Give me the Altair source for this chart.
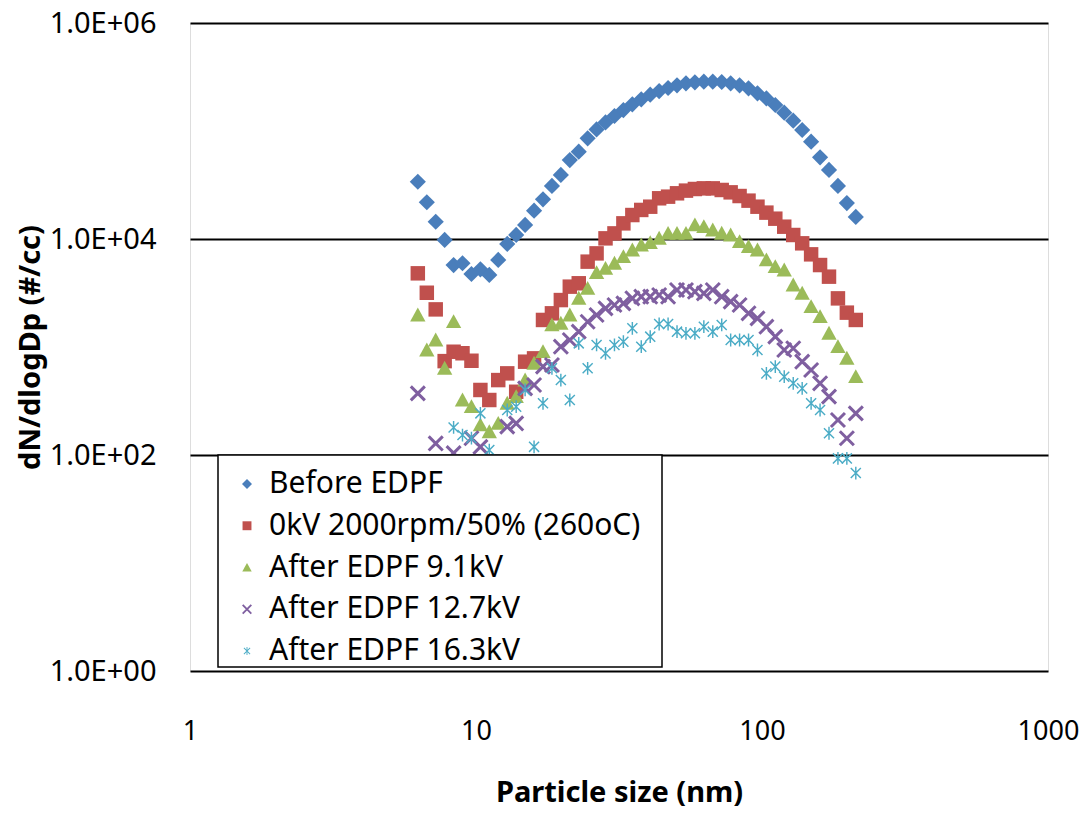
import altair as alt
import pandas as pd

sizes_nm = [6.26, 6.73, 7.23, 7.77, 8.35, 8.97, 9.64, 10.36, 11.13, 11.96,
            12.86, 13.82, 14.85, 15.96, 17.15, 18.43, 19.80, 21.28, 22.87, 24.57,
            26.40, 28.37, 30.49, 32.76, 35.21, 37.83, 40.66, 43.69, 46.95, 50.45,
            54.22, 58.26, 62.61, 67.28, 72.30, 77.70, 83.49, 89.72, 96.42, 103.6,
            111.3, 119.6, 128.6, 138.2, 148.5, 159.6, 171.5, 184.3, 198.0, 212.8]

before_edpf = [33900, 21900, 14450, 9800, 5740, 5960, 4740, 5240, 4650, 6400,
               9000, 10900, 13500, 18300, 23300, 31000, 39200, 53800, 64300, 85500,
               103500, 120000, 137700, 156300, 176600, 196300, 216800, 234400, 250000, 264900,
               276100, 282500, 286400, 286400, 284400, 276100, 264900, 248300, 223400, 200400,
               174200, 147900, 124700, 102100, 79600, 57000, 43600, 31000, 21500, 16000]

kv0 = [4810, 3180, 2230, 740, 904, 875, 746, 400, 323, 494,
       570, 385, 731, 785, 1780, 2050, 2720, 3620, 3890, 6170,
       7360, 10140, 11270, 13960, 16670, 18580, 19910, 23820, 24660, 26490,
       28050, 29040, 29440, 29440, 28440, 27040, 25000, 22650, 19910, 17540,
       15420, 13000, 10890, 9120, 7210, 5740, 4480, 2820, 2080, 1780]

kv9_1 = [1977, 938, 1161, 635, 1714, 323, 280, 190, 164, 196,
         301, 347, 494, 706, 906, 1600, 1656, 1977, 2825, 3490,
         4875, 5346, 5957, 6855, 7907, 8790, 9247, 10140, 11270, 11270,
         11270, 13490, 13000, 12100, 11300, 10890, 9440, 8490, 7907, 6397,
         5546, 5164, 3750, 3141, 2360, 1910, 1340, 1007, 785, 531]

kv12_7 = [372, 70, 128, 70, 104, 70, 143, 119, 70, 70,
          183, 196, 414, 445, 658, 681, 1007, 1161, 1387, 1714,
          1977, 2280, 2449, 2535, 2825, 2924, 2924, 3027, 2924, 3373,
          3373, 3251, 3141, 3373, 2924, 2630, 2449, 2051, 1841, 1542,
          1247, 938, 973, 731, 612, 461, 347, 211, 143, 243]

kv16_3 = [60, 60, 60, 60, 180, 153, 143, 243, 111, 80,
          261, 280, 400, 119, 301, 635, 494, 323, 1081, 635,
          1045, 873, 1045, 1119, 1489, 1007, 1247, 1633, 1633, 1387,
          1340, 1340, 1542, 1387, 1600, 1161, 1161, 1161, 938, 570,
          658, 531, 461, 414, 301, 261, 159, 93, 93, 68]

series_names = ["Before EDPF", "0kV 2000rpm/50% (260oC)", "After EDPF 9.1kV",
                "After EDPF 12.7kV", "After EDPF 16.3kV"]
series_values = [before_edpf, kv0, kv9_1, kv12_7, kv16_3]
colors = ["#4A7EBB", "#C0504D", "#9BBB59", "#7F5FA0", "#4BACC6"]

# marker outlines (unit coordinates, all filled so plot and legend agree)
diamond_shape = "M0,-0.95L0.95,0L0,0.95L-0.95,0Z"
square_shape = "M-0.85,-0.85L0.85,-0.85L0.85,0.85L-0.85,0.85Z"
triangle_shape = "M0,-0.88L0.9,0.75L-0.9,0.75Z"
x_shape = ("M-0.95,-0.7L-0.7,-0.95L0.95,0.7L0.7,0.95Z"
           "M0.7,-0.95L0.95,-0.7L-0.7,0.95L-0.95,0.7Z")
star_shape = ("M-0.65,-0.53L-0.53,-0.65L0.65,0.53L0.53,0.65Z"
              "M0.53,-0.65L0.65,-0.53L-0.53,0.65L-0.65,0.53Z"
              "M-0.085,-0.75L0.085,-0.75L0.085,0.75L-0.085,0.75Z")
shapes = [diamond_shape, square_shape, triangle_shape, x_shape, star_shape]

rows = []
for name, vals in zip(series_names, series_values):
    for s, v in zip(sizes_nm, vals):
        rows.append({"size": s, "value": v, "series": name})
df = pd.DataFrame(rows)

FONT = "Noto Sans"

x_enc = alt.X("size:Q",
              scale=alt.Scale(type="log", domain=[1, 1000], nice=False),
              axis=alt.Axis(title="Particle size (nm)", values=[1, 10, 100, 1000],
                            format="d", grid=False, ticks=False, tickSize=0,
                            domain=False, labelPadding=60, labelBaseline="middle",
                            labelFontSize=27, labelFont=FONT, labelColor="black",
                            titleFontSize=29, titleFont=FONT, titleFontWeight="bold",
                            titleColor="black", titleBaseline="middle", titleY=121,
                            labelFlush=False))
y_enc = alt.Y("value:Q",
              scale=alt.Scale(type="log", domain=[1, 1000000], nice=False),
              axis=alt.Axis(title="dN/dlogDp (#/cc)", values=[1, 100, 10000, 1000000],
                            labelExpr="'1.0E+0' + round(log(datum.value) / LN10)",
                            grid=True, gridColor="black", gridWidth=2, gridOpacity=1,
                            ticks=False, tickSize=0, domain=False, labelPadding=34,
                            labelFontSize=29, labelFont=FONT, labelColor="black",
                            titleFontSize=29, titleFont=FONT, titleFontWeight="bold",
                            titleColor="black", titleBaseline="middle",
                            titleX=-160, titleY=324, titleAngle=-90, titleAlign="center",
                            labelFlush=False))

legend = alt.Legend(title=None, orient="none", legendX=42, legendY=446,
                    padding=0,
                    labelFontSize=30, labelFont=FONT, labelColor="black",
                    symbolSize=110, rowPadding=11.75, labelOffset=7,
                    symbolStrokeWidth=0, labelLimit=700)

points = alt.Chart(df).mark_point(filled=True, opacity=1, size=290).encode(
    x=x_enc,
    y=y_enc,
    color=alt.Color("series:N", scale=alt.Scale(domain=series_names, range=colors),
                    legend=legend, sort=series_names),
    shape=alt.Shape("series:N", scale=alt.Scale(domain=series_names, range=shapes),
                    legend=legend, sort=series_names),
)

# white framed panel behind the legend entries
legend_box = alt.Chart(pd.DataFrame({"box": [1]})).mark_rect(
    fill="white", stroke="black", strokeWidth=1.5
).encode(
    x=alt.value(28), x2=alt.value(472), y=alt.value(432), y2=alt.value(644)
)

chart = alt.layer(points, legend_box).properties(
    width=858, height=648,
    autosize=alt.AutoSizeParams(type="none"),
    padding={"left": 182, "top": 15, "right": 32, "bottom": 137},
).configure_view(
    stroke="black", strokeWidth=2
).configure(background="white")

chart.save("out.html", embed_options={"renderer": "svg", "actions": False})
